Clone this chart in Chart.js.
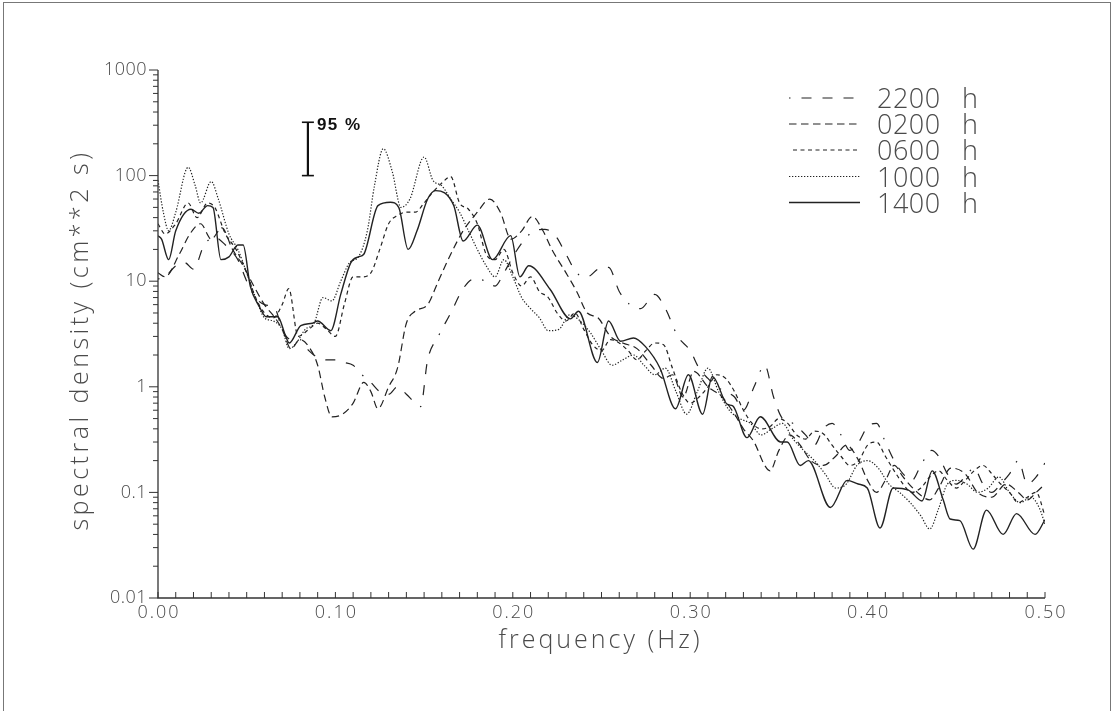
<!DOCTYPE html>
<html><head><meta charset="utf-8">
<script src="https://cdn.jsdelivr.net/npm/chart.js@4.4.1/dist/chart.umd.min.js"></script>
<style>
html,body{margin:0;padding:0;background:#fff;}
#wrap{position:relative;width:1113px;height:711px;overflow:hidden;background:#fff;}
#frame{position:absolute;left:3px;top:2px;width:1108px;height:740px;border:1px solid #777;box-sizing:border-box;pointer-events:none;}
canvas{position:absolute;left:0;top:0;}
</style></head><body>
<div id="wrap"><canvas id="c" width="1113" height="711"></canvas><div id="frame"></div></div>
<script>
// ---- data (frequency in Hz, spectral density in cm**2 s) ----
const seriesLabels = ['2200', '0200', '0600', '1000', '1400'];
const unitLabel = 'h';

const spec2200 = [[0,10.5],[0.004,11],[0.01,14],[0.015,15],[0.02,13],[0.026,22],[0.032,26],[0.038,22],[0.045,16],[0.05,10],[0.055,7],[0.06,6],[0.066,5.5],[0.07,3.5],[0.075,2.8],[0.08,2.8],[0.085,2.2],[0.09,1.9],[0.095,1.8],[0.1,1.8],[0.105,1.7],[0.11,1.6],[0.115,1.3],[0.12,1.1],[0.125,0.9],[0.13,0.85],[0.135,1.0],[0.14,0.85],[0.145,0.7],[0.148,0.65],[0.152,1.8],[0.158,3],[0.165,5],[0.172,8.5],[0.178,10.5],[0.185,10],[0.19,9],[0.195,12],[0.2,17],[0.206,24],[0.212,30],[0.218,31],[0.224,27],[0.23,18],[0.236,12],[0.242,11],[0.248,13],[0.254,13.5],[0.26,8],[0.266,6],[0.272,5.5],[0.28,7.5],[0.286,5.5],[0.293,3],[0.3,2.2],[0.305,1.5],[0.31,1.2],[0.315,1.0],[0.32,0.9],[0.325,0.8],[0.33,0.6],[0.336,1.0],[0.342,1.6],[0.347,0.8],[0.352,0.5],[0.358,0.45],[0.365,0.35],[0.37,0.28],[0.375,0.4],[0.38,0.45],[0.385,0.35],[0.39,0.25],[0.395,0.3],[0.4,0.42],[0.405,0.45],[0.41,0.3],[0.415,0.2],[0.42,0.15],[0.425,0.13],[0.43,0.18],[0.436,0.25],[0.44,0.22],[0.445,0.15],[0.45,0.12],[0.455,0.14],[0.46,0.17],[0.465,0.12],[0.47,0.1],[0.475,0.12],[0.48,0.15],[0.485,0.2],[0.49,0.12],[0.495,0.14],[0.5,0.19]];

const spec0200 = [[0,12],[0.004,11],[0.012,18],[0.018,28],[0.024,35],[0.03,25],[0.036,32],[0.042,20],[0.048,14],[0.054,9],[0.06,6],[0.066,4.5],[0.07,3.5],[0.075,2.3],[0.08,2.8],[0.085,2.4],[0.09,1.6],[0.094,0.8],[0.098,0.52],[0.104,0.55],[0.11,0.7],[0.116,1.1],[0.12,0.9],[0.124,0.62],[0.13,1.0],[0.135,1.5],[0.14,4],[0.145,5.2],[0.152,6],[0.158,10],[0.165,18],[0.172,30],[0.18,45],[0.187,60],[0.193,45],[0.199,25],[0.205,30],[0.211,41],[0.217,30],[0.222,20],[0.23,12],[0.236,8],[0.242,5],[0.248,4.5],[0.255,3],[0.262,2.6],[0.27,2.3],[0.278,1.6],[0.285,1.2],[0.29,1.3],[0.296,0.8],[0.302,1.4],[0.31,1.0],[0.318,0.8],[0.325,0.55],[0.33,0.4],[0.336,0.3],[0.342,0.18],[0.345,0.16],[0.35,0.25],[0.356,0.35],[0.362,0.28],[0.368,0.2],[0.375,0.18],[0.382,0.22],[0.388,0.28],[0.395,0.2],[0.4,0.13],[0.405,0.1],[0.41,0.13],[0.415,0.18],[0.42,0.14],[0.428,0.1],[0.435,0.085],[0.44,0.11],[0.447,0.17],[0.455,0.15],[0.462,0.1],[0.47,0.09],[0.478,0.12],[0.485,0.1],[0.49,0.085],[0.495,0.1],[0.5,0.12]];

const spec0600 = [[0,35],[0.004,28],[0.01,35],[0.017,55],[0.022,40],[0.028,55],[0.032,50],[0.038,28],[0.044,20],[0.05,12],[0.055,7],[0.06,5],[0.065,4.5],[0.07,6],[0.0737,8.5],[0.079,3],[0.085,3.5],[0.09,4],[0.095,3.5],[0.1,3.0],[0.105,6],[0.11,11],[0.115,11],[0.12,12],[0.125,20],[0.13,35],[0.135,42],[0.14,45],[0.145,45],[0.15,55],[0.155,70],[0.16,85],[0.165,98],[0.17,55],[0.175,48],[0.18,35],[0.185,18],[0.19,16],[0.195,20],[0.2,12],[0.205,9],[0.21,11],[0.215,8],[0.22,7],[0.225,5],[0.23,4.2],[0.235,5],[0.24,3.5],[0.245,2.5],[0.25,2.2],[0.255,2.8],[0.26,2.6],[0.265,2.2],[0.27,1.8],[0.275,2.2],[0.28,2.6],[0.285,2.5],[0.29,1.5],[0.295,0.9],[0.3,0.7],[0.305,0.8],[0.31,1.0],[0.315,1.3],[0.32,1.2],[0.325,0.9],[0.33,0.6],[0.335,0.45],[0.34,0.4],[0.345,0.42],[0.35,0.5],[0.355,0.45],[0.36,0.35],[0.365,0.32],[0.37,0.38],[0.375,0.36],[0.38,0.28],[0.385,0.22],[0.39,0.18],[0.395,0.2],[0.4,0.28],[0.405,0.3],[0.41,0.22],[0.415,0.16],[0.42,0.12],[0.425,0.1],[0.43,0.11],[0.435,0.14],[0.44,0.16],[0.445,0.13],[0.45,0.11],[0.455,0.13],[0.46,0.16],[0.465,0.18],[0.47,0.15],[0.475,0.12],[0.48,0.1],[0.485,0.08],[0.49,0.09],[0.495,0.1],[0.5,0.06]];

const spec1000 = [[0,90],[0.003,45],[0.006,30],[0.01,45],[0.017,120],[0.021,80],[0.024,55],[0.03,88],[0.034,60],[0.04,28],[0.045,20],[0.05,12],[0.055,7],[0.06,4.5],[0.065,4.2],[0.07,3.5],[0.074,2.3],[0.078,2.6],[0.083,3.5],[0.088,4],[0.093,7],[0.098,6.5],[0.103,10],[0.108,15],[0.113,17],[0.118,30],[0.122,80],[0.127,180],[0.132,110],[0.137,50],[0.142,60],[0.15,150],[0.155,90],[0.16,80],[0.165,60],[0.17,45],[0.175,30],[0.18,20],[0.185,14],[0.19,11],[0.195,16],[0.2,11],[0.205,7],[0.21,5.5],[0.215,4.5],[0.22,3.4],[0.226,3.5],[0.232,4.8],[0.238,4.2],[0.244,3.2],[0.25,2.2],[0.256,1.6],[0.262,1.8],[0.268,2.0],[0.274,1.6],[0.28,1.3],[0.286,1.5],[0.292,0.9],[0.298,0.55],[0.304,0.9],[0.31,1.5],[0.316,0.9],[0.322,0.6],[0.328,0.5],[0.334,0.45],[0.34,0.35],[0.346,0.4],[0.352,0.45],[0.358,0.32],[0.364,0.25],[0.37,0.2],[0.376,0.15],[0.382,0.11],[0.388,0.12],[0.394,0.18],[0.4,0.2],[0.406,0.17],[0.412,0.12],[0.418,0.1],[0.424,0.08],[0.43,0.06],[0.435,0.045],[0.44,0.07],[0.445,0.12],[0.45,0.13],[0.456,0.12],[0.462,0.1],[0.468,0.11],[0.474,0.14],[0.48,0.1],[0.486,0.08],[0.492,0.09],[0.497,0.07],[0.5,0.05]];

const spec1400 = [[0,27],[0.002,25],[0.006,16],[0.010,30],[0.0186,48],[0.023,44],[0.028,52],[0.031,50],[0.0355,16],[0.040,17],[0.045,22],[0.048,22],[0.052,9],[0.057,5.8],[0.061,4.6],[0.0675,4.6],[0.072,3.0],[0.074,2.6],[0.0805,3.8],[0.087,4.0],[0.090,4.2],[0.0974,3.4],[0.103,7.5],[0.1087,15],[0.113,17],[0.116,18],[0.124,52],[0.131,56],[0.1357,50],[0.141,20],[0.146,30],[0.152,60],[0.1565,72],[0.1667,52],[0.172,24],[0.180,34],[0.1886,16],[0.1988,27],[0.204,11],[0.209,14],[0.221,8.4],[0.2325,4.4],[0.237,5.2],[0.2477,1.7],[0.254,4.2],[0.2607,2.7],[0.268,2.9],[0.2748,2.4],[0.283,1.5],[0.2917,0.62],[0.299,1.3],[0.307,0.55],[0.3125,1.25],[0.321,0.68],[0.324,0.66],[0.332,0.33],[0.3395,0.52],[0.351,0.3],[0.3547,0.3],[0.362,0.18],[0.3666,0.2],[0.379,0.072],[0.3885,0.13],[0.3947,0.12],[0.3998,0.11],[0.407,0.046],[0.4144,0.11],[0.423,0.105],[0.4307,0.083],[0.4364,0.16],[0.4426,0.085],[0.4465,0.056],[0.452,0.054],[0.4595,0.029],[0.467,0.068],[0.4764,0.04],[0.484,0.063],[0.4944,0.04],[0.5,0.055]];

const ciFreq = 0.0845;          // position of the 95 % confidence bar
const ciRange = [100, 320];     // lower / upper end of the bar
const ciLabel = '95 %';

const xTickValues = [0, 0.1, 0.2, 0.3, 0.4, 0.5];
const xTickLabels = ['0.00', '0.10', '0.20', '0.30', '0.40', '0.50'];
const yTickValues = [0.01, 0.1, 1, 10, 100, 1000];
const yTickLabels = ['0.01', '0.1', '1', '10', '100', '1000'];
const xTitle = 'frequency (Hz)';
const yTitle = 'spectral density (cm**2 s)';

// ---- styles ----
const seriesData = [spec2200, spec0200, spec0600, spec1000, spec1400];
const dashStyles = [[1.5,11,10,11,10,11,10,11], [7.5,4.5], [4,3.5], [1.3,1.7], []];
const INK = '#222';
const TXT = '#4a4a4a';
const FONT = '"Open Sans", "DejaVu Sans", sans-serif';

const datasets = seriesData.map((s, i) => ({
  label: seriesLabels[i] + ' ' + unitLabel,
  data: s.map(p => ({x: p[0], y: p[1]})),
  borderColor: INK,
  borderWidth: i === 4 ? 1.4 : 1.2,
  borderDash: dashStyles[i],
  pointRadius: 0,
  fill: false,
  cubicInterpolationMode: 'monotone'
}));
datasets.push({
  label: ciLabel,
  data: [{x: ciFreq, y: ciRange[0]}, {x: ciFreq, y: ciRange[1]}],
  borderColor: '#111',
  borderWidth: 2.2,
  tension: 0,
  pointStyle: 'line',
  pointRadius: 6,
  pointBorderWidth: 1.6,
  pointBorderColor: '#111',
  isCI: true
});

const decor = {
  id: 'decor',
  afterDatasetsDraw(chart) {
    const {ctx, chartArea: a, scales: {x, y}} = chart;
    const ln = (x1, y1, x2, y2) => { ctx.beginPath(); ctx.moveTo(x1, y1); ctx.lineTo(x2, y2); ctx.stroke(); };
    const spacing = s => { if ('letterSpacing' in ctx) ctx.letterSpacing = s; };
    ctx.save();
    ctx.strokeStyle = '#333';
    ctx.lineWidth = 1.3;
    ctx.beginPath(); ctx.moveTo(a.left, a.top); ctx.lineTo(a.left, a.bottom); ctx.lineTo(a.right, a.bottom); ctx.stroke();
    ctx.lineWidth = 1;
    // y ticks (log)
    yTickValues.forEach((d, k) => {
      const py = y.getPixelForValue(d);
      ln(a.left - 9, py, a.left, py);
      if (k < yTickValues.length - 1) {
        for (let m = 2; m <= 9; m++) {
          const p = y.getPixelForValue(m * d);
          ln(a.left - 5, p, a.left, p);
        }
      }
    });
    // x ticks every 0.01
    for (let i = 0; i <= 50; i++) {
      const px = x.getPixelForValue(i / 100);
      ln(px, a.bottom, px, a.bottom - 6);
    }
    // tick labels
    ctx.fillStyle = TXT;
    ctx.font = '300 18px ' + FONT;
    spacing('0.5px');
    ctx.textAlign = 'right'; ctx.textBaseline = 'middle';
    yTickValues.forEach((v, k) => ctx.fillText(yTickLabels[k], a.left - 11, y.getPixelForValue(v)));
    spacing('2px');
    ctx.textAlign = 'center';
    xTickValues.forEach((v, k) => ctx.fillText(xTickLabels[k], x.getPixelForValue(v) + 1, a.bottom + 15));
    // titles
    ctx.font = '300 25px ' + FONT;
    spacing('3px');
    ctx.fillText(xTitle, (a.left + a.right) / 2 - 1, 641);
    ctx.save();
    ctx.translate(81, 340);
    ctx.rotate(-Math.PI / 2);
    spacing('3.5px');
    ctx.fillText(yTitle, 0, 0);
    ctx.restore();
    // CI label
    spacing('1.5px');
    ctx.fillStyle = '#111';
    ctx.font = 'bold 17px "Liberation Sans", Arial, sans-serif';
    ctx.textAlign = 'left'; ctx.textBaseline = 'alphabetic';
    ctx.fillText(ciLabel, x.getPixelForValue(ciFreq) + 9, y.getPixelForValue(ciRange[1]) + 8);
    // legend
    spacing('0px');
    const rows = [98, 124, 150, 176.5, 202.5];
    chart.data.datasets.forEach((ds, i) => {
      if (ds.isCI) return;
      const ry = rows[i];
      ctx.strokeStyle = INK;
      ctx.lineWidth = ds.borderWidth;
      ctx.setLineDash(ds.borderDash);
      ln(i === 2 ? 793 : 789, ry, 860, ry);
      ctx.setLineDash([]);
      ctx.fillStyle = TXT;
      ctx.font = '300 27px ' + FONT;
      ctx.textAlign = 'left'; ctx.textBaseline = 'alphabetic';
      spacing('0.5px');
      ctx.fillText(seriesLabels[i], 877, ry + 10);
      spacing('0px');
      ctx.fillText(unitLabel, 962, ry + 10);
    });
    ctx.restore();
  }
};

new Chart(document.getElementById('c'), {
  type: 'line',
  data: {datasets},
  options: {
    responsive: false,
    animation: false,
    parsing: true,
    layout: {padding: {left: 158, top: 70, right: 68, bottom: 113}},
    plugins: {legend: {display: false}, tooltip: {enabled: false}},
    scales: {
      x: {type: 'linear', min: 0, max: 0.5, display: false},
      y: {type: 'logarithmic', min: 0.01, max: 1000, display: false}
    }
  },
  plugins: [decor]
});
</script>
</body></html>
